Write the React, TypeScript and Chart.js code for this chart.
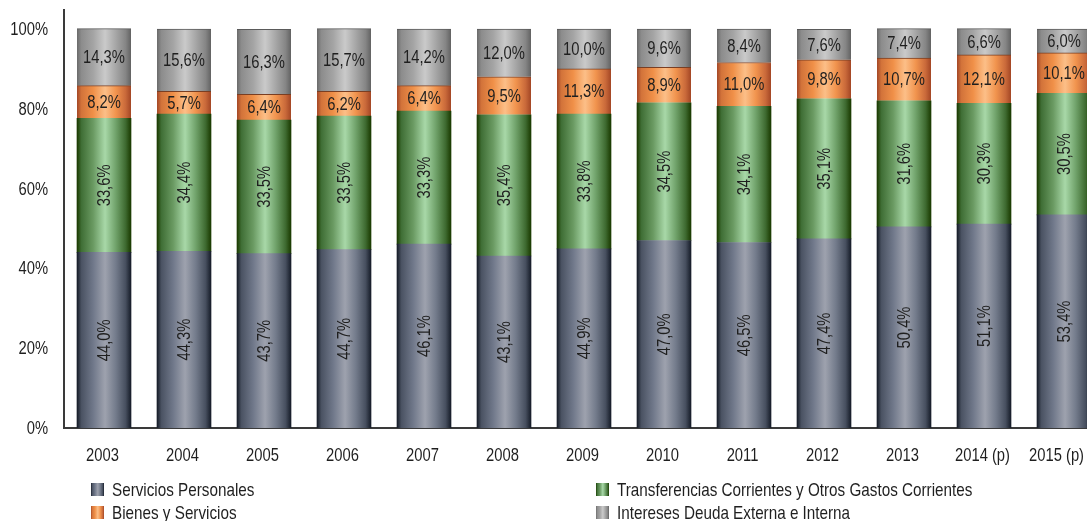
import React, { useEffect, useRef } from "react";
import { Chart, registerables } from "chart.js";

Chart.register(...registerables);

const categories = ["2003", "2004", "2005", "2006", "2007", "2008", "2009", "2010", "2011", "2012", "2013", "2014 (p)", "2015 (p)"];
const serviciosPersonales = [44.0, 44.3, 43.7, 44.7, 46.1, 43.1, 44.9, 47.0, 46.5, 47.4, 50.4, 51.1, 53.4];
const transferencias = [33.6, 34.4, 33.5, 33.5, 33.3, 35.4, 33.8, 34.5, 34.1, 35.1, 31.6, 30.3, 30.5];
const bienesServicios = [8.2, 5.7, 6.4, 6.2, 6.4, 9.5, 11.3, 8.9, 11.0, 9.8, 10.7, 12.1, 10.1];
const intereses = [14.3, 15.6, 16.3, 15.7, 14.2, 12.0, 10.0, 9.6, 8.4, 7.6, 7.4, 6.6, 6.0];
const seriesNames = [
  "Servicios Personales",
  "Transferencias Corrientes y Otros Gastos Corrientes",
  "Bienes y Servicios",
  "Intereses Deuda Externa e Interna",
];
const yTicks = [0, 20, 40, 60, 80, 100];

const FONT = '"Liberation Sans", Arial, sans-serif';
const NARROW = 0.82;
const FS = 18;
const LEGEND_FS = 18.6;
const TEXT = "#1f1f1f";
const BAR_W = 54;
const VISIBLE_RIGHT = 1076;

type Stops = [number, string][];
const gradients: Stops[] = [
  [[0, "#151b27"], [0.08, "#4a5262"], [0.3, "#70788a"], [0.52, "#9ea2ae"], [0.72, "#737b8b"], [0.9, "#474f5f"], [1, "#161c28"]],
  [[0, "#1a3a00"], [0.08, "#3f6e35"], [0.3, "#6a9a62"], [0.52, "#a8d8a8"], [0.72, "#70a26a"], [0.9, "#3e6a30"], [1, "#1a3a00"]],
  [[0, "#a34726"], [0.08, "#d2733a"], [0.3, "#f09048"], [0.52, "#fcbf88"], [0.72, "#f1944e"], [0.9, "#c9693a"], [1, "#a34624"]],
  [[0, "#6a6a6a"], [0.08, "#8c8c8c"], [0.3, "#a4a4a4"], [0.52, "#cacaca"], [0.72, "#a6a6a6"], [0.9, "#858585"], [1, "#626262"]],
];
const topBorders = [null, null, "#7a3e22", "#5a5a5a"];

function makeGradient(ctx: CanvasRenderingContext2D, x0: number, w: number, stops: Stops) {
  const g = ctx.createLinearGradient(x0, 0, x0 + w, 0);
  stops.forEach(([o, c]) => g.addColorStop(o, c));
  return g;
}

function narrowText(
  ctx: CanvasRenderingContext2D,
  text: string,
  x: number,
  y: number,
  align: CanvasTextAlign,
  rotate = false
) {
  ctx.save();
  ctx.translate(x, y);
  if (rotate) ctx.rotate(-Math.PI / 2);
  ctx.scale(NARROW, 1);
  ctx.textAlign = align;
  ctx.textBaseline = "middle";
  ctx.fillText(text, 0, 0);
  ctx.restore();
}

const fmt = (v: number) => v.toFixed(1).replace(".", ",") + "%";

const labelPlugin = {
  id: "barLabels",
  afterDatasetsDraw(chart: any) {
    const ctx = chart.ctx as CanvasRenderingContext2D;
    ctx.save();
    ctx.font = `${FS}px ${FONT}`;
    ctx.fillStyle = TEXT;
    chart.data.datasets.forEach((ds: any, di: number) => {
      const meta = chart.getDatasetMeta(di);
      meta.data.forEach((el: any, i: number) => {
        const v = ds.data[i];
        const cy = (el.y + el.base) / 2;
        if (di < 2) narrowText(ctx, fmt(v), el.x + 1, cy, "center", true);
        else narrowText(ctx, fmt(v), el.x, cy + 1, "center");
      });
    });
    ctx.restore();
  },
};

const axisTextPlugin = {
  id: "axisText",
  afterDraw(chart: any) {
    const ctx = chart.ctx as CanvasRenderingContext2D;
    const xs = chart.scales.x;
    const ys = chart.scales.y;
    ctx.save();
    ctx.font = `${FS}px ${FONT}`;
    ctx.fillStyle = TEXT;
    categories.forEach((c, i) => {
      const w = ctx.measureText(c).width * NARROW;
      let cx = xs.getPixelForValue(i) - 1.5;
      if (cx + w / 2 > VISIBLE_RIGHT) cx = VISIBLE_RIGHT - w / 2;
      narrowText(ctx, c, cx, chart.chartArea.bottom + 28, "center");
    });
    yTicks.forEach((v) => {
      narrowText(ctx, v + "%", chart.chartArea.left - 16, ys.getPixelForValue(v) + 1, "right");
    });
    ctx.restore();
  },
};

const legendPlugin = {
  id: "customLegend",
  afterDraw(chart: any) {
    const ctx = chart.ctx as CanvasRenderingContext2D;
    const pos = [
      { x: 83, y: 482 },
      { x: 588, y: 482 },
      { x: 83, y: 505 },
      { x: 588, y: 505 },
    ];
    ctx.save();
    ctx.font = `${LEGEND_FS}px ${FONT}`;
    chart.data.datasets.forEach((ds: any, di: number) => {
      const p = pos[di];
      ctx.fillStyle = makeGradient(ctx, p.x, 13, gradients[di]);
      ctx.fillRect(p.x, p.y - 7, 13, 13);
      ctx.fillStyle = TEXT;
      narrowText(ctx, ds.label, p.x + 21, p.y + 1, "left");
    });
    ctx.restore();
  },
};

export default function App() {
  const ref = useRef<HTMLCanvasElement | null>(null);
  useEffect(() => {
    if (!ref.current) return;
    const series = [serviciosPersonales, transferencias, bienesServicios, intereses];
    const chart = new Chart(ref.current, {
      type: "bar",
      data: {
        labels: categories,
        datasets: series.map((d, di) => ({
          label: seriesNames[di],
          data: d,
          barThickness: BAR_W,
          borderWidth: topBorders[di] ? { top: 1, bottom: 0, left: 0, right: 0 } : 0,
          borderColor: topBorders[di] || "rgba(0,0,0,0)",
          borderSkipped: false,
          backgroundColor: (c: any) => {
            const ch = c.chart;
            const xs = ch.scales && ch.scales.x;
            if (!xs || c.type !== "data") return gradients[di][3][1];
            const cx = xs.getPixelForValue(c.dataIndex);
            if (!isFinite(cx)) return gradients[di][3][1];
            return makeGradient(ch.ctx, cx - BAR_W / 2, BAR_W, gradients[di]);
          },
        })),
      },
      options: {
        responsive: false,
        animation: false,
        devicePixelRatio: 1,
        layout: { autoPadding: false, padding: { left: 0, top: 2, right: 14, bottom: 0 } },
        plugins: { legend: { display: false }, tooltip: { enabled: false } },
        scales: {
          x: {
            stacked: true,
            grid: { display: false, drawTicks: false },
            border: { display: true, color: "#3a3a3a", width: 2 },
            ticks: { display: false },
            afterFit: (s: any) => { s.height = 120; },
          },
          y: {
            stacked: true,
            min: 0,
            max: 104.76,
            grid: { display: false, drawTicks: false },
            border: { display: true, color: "#3a3a3a", width: 2 },
            ticks: { display: false, includeBounds: false },
            afterBuildTicks: (s: any) => { s.ticks = yTicks.map((v) => ({ value: v })); },
            afterFit: (s: any) => { s.width = 56; },
          },
        },
      },
      plugins: [labelPlugin, axisTextPlugin, legendPlugin],
    });
    chart.update();
    return () => chart.destroy();
  }, []);
  return (
    <div style={{ position: "fixed", left: 8, top: 8, width: 1079, height: 513, overflow: "hidden" }}>
      <canvas ref={ref} width={1110} height={540} style={{ display: "block" }} />
    </div>
  );
}
